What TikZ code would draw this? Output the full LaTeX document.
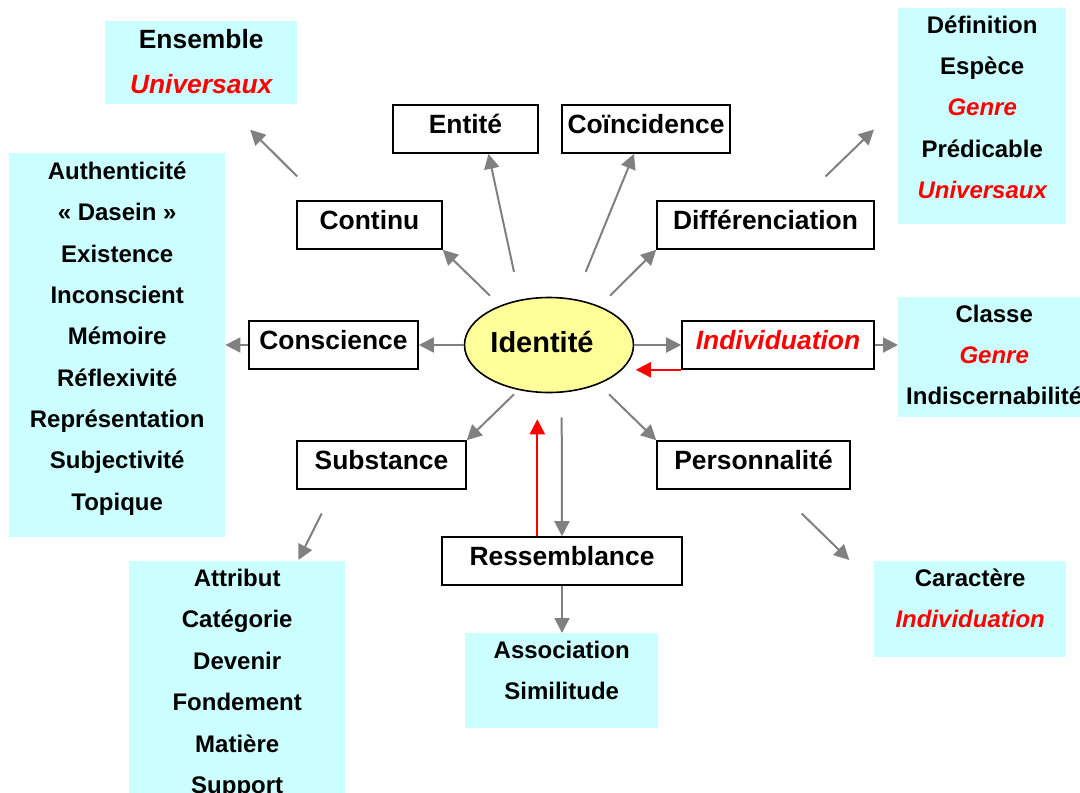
\documentclass[tikz,border=0pt]{standalone}
\usepackage{fontspec}
\setmainfont{Liberation Sans}
\usetikzlibrary{arrows.meta,calc,shapes.geometric}
\definecolor{cyanbg}{HTML}{CCFFFF}
\definecolor{idfill}{HTML}{FFFF99}
\definecolor{arrgray}{HTML}{808080}
\newcommand{\rd}[1]{{\color{red}\itshape #1}}
\begin{document}
\begin{tikzpicture}[x=1pt,y=-1pt,
  rbox/.style={draw=black, line width=1.6pt, fill=white, inner sep=0pt, text height=18pt, text depth=10pt, font=\fontsize{26.4}{30}\selectfont\bfseries, minimum height=48pt},
  cbox/.style={fill=cyanbg, draw=none, inner sep=0pt, anchor=north west},
  ctxt/.style={anchor=base, inner sep=0pt, font=\fontsize{24}{28}\selectfont\bfseries},
  btxt/.style={anchor=base, inner sep=0pt, font=\fontsize{26.4}{30}\selectfont\bfseries},
  garr/.style={draw=arrgray, line width=2pt, -{Triangle[length=15pt,width=15pt]}},
  rarr/.style={draw=red, line width=2.2pt, -{Triangle[length=15pt,width=15pt]}}
]
\useasboundingbox (0,0) rectangle (1080,793);
\clip (0,0) rectangle (1080,793);

% cyan boxes
\node[cbox, minimum width=192pt, minimum height=83pt] (ens) at (105,21) {};
\node[btxt] (ens-0) at ($(ens.north)+(0,27.3)$) {Ensemble};
\node[btxt] (ens-1) at ($(ens.north)+(0,72.3)$) {\rd{Universaux}};

\node[cbox, minimum width=168pt, minimum height=216pt] (def) at (898,8) {};
\foreach \t [count=\i from 0] in {Définition, Espèce, \rd{Genre}, Prédicable, \rd{Universaux}}
  \node[ctxt] (def-\i) at ($(def.north)+(0,25+41.4*\i)$) {\t};

\node[cbox, minimum width=216pt, minimum height=384pt] (lst) at (9,153) {};
\foreach \t [count=\i from 0] in {Authenticité, « Dasein », Existence, Inconscient, Mémoire, Réflexivité, Représentation, Subjectivité, Topique}
  \node[ctxt] (lst-\i) at ($(lst.north)+(0,26.3+41.35*\i)$) {\t};

\node[cbox, minimum width=192pt, minimum height=120pt] (cla) at (898,297) {};
\foreach \t [count=\i from 0] in {Classe, \rd{Genre}, Indiscernabilité}
  \node[ctxt] (cla-\i) at ($(cla.north)+(0,25+41*\i)$) {\t};

\node[cbox, minimum width=216pt, minimum height=260pt] (att) at (129,561) {};
\foreach \t [count=\i from 0] in {Attribut, Catégorie, Devenir, Fondement, Matière, Support}
  \node[ctxt] (att-\i) at ($(att.north)+(0,25+41.5*\i)$) {\t};

\node[cbox, minimum width=193pt, minimum height=95pt] (aso) at (465,633) {};
\foreach \t [count=\i from 0] in {Association, Similitude}
  \node[ctxt] (aso-\i) at ($(aso.north)+(0,25+41.5*\i)$) {\t};

\node[cbox, minimum width=192pt, minimum height=96pt] (car) at (874,561) {};
\foreach \t [count=\i from 0] in {Caractère, \rd{Individuation}}
  \node[ctxt] (car-\i) at ($(car.north)+(0,25+41.5*\i)$) {\t};

% white boxes
\node[rbox, minimum width=145pt] (entite) at (465.5,129) {Entité};
\node[rbox, minimum width=168pt] (coinc) at (646,129) {Coïncidence};
\node[rbox, minimum width=145pt] (continu) at (369.5,225) {Continu};
\node[rbox, minimum width=217pt] (diff) at (765.5,225) {Différenciation};
\node[rbox, minimum width=169pt] (consc) at (333.5,345) {Conscience};
\node[rbox, minimum width=192pt] (indiv) at (778,345) {\rd{Individuation}};
\node[rbox, minimum width=169pt] (subst) at (381.5,465) {Substance};
\node[rbox, minimum width=193pt] (person) at (753.5,465) {Personnalité};
\node[rbox, minimum width=240pt] (ressem) at (562,561) {Ressemblance};

% centre
\node[ellipse, draw=black, line width=1.6pt, fill=idfill, inner sep=0pt, minimum width=169pt, minimum height=95pt, text height=21pt, text depth=5.6pt, font=\fontsize{29}{32}\selectfont\bfseries] (id) at (549,345) {Identité\hspace*{14pt}};

% arrows
\draw[garr] ($(id.north)+(-35,-24.8)$) -- ($(entite.south)+(23,0)$);
\draw[garr] ($(id.north)+(36.7,-24.8)$) -- ($(coinc.south)+(-12,0)$);
\draw[garr] ($(id.north)+(-59,-1)$) -- (continu.south east);
\draw[garr] ($(id.north)+(61,-1)$) -- (diff.south west);
\draw[garr] (id.west) -- (consc.east);
\draw[garr] (consc.west) -- (consc.west -| lst.east);
\draw[garr] (id.east) -- (indiv.west);
\draw[garr] (indiv.east) -- (indiv.east -| cla.west);
\draw[rarr] (indiv.south west) -- ($(indiv.south west -| id.east)+(1.5,0)$);
\draw[garr] ($(id.south)+(-35,1)$) -- (subst.north east);
\draw[garr] ($(id.south)+(60,1)$) -- (person.north west);
\draw[rarr] ($(ressem.north)+(-24.7,0)$) -- ($(id.south)+(-11.7,26)$);
\draw[garr] ($(id.south)+(12.7,24)$) -- (ressem.north);
\draw[garr] (ressem.south) -- (ressem.south |- aso.north);
\draw[garr] ($(continu.north west)+(1,-23.7)$) -- ($(ens.south)+(49,25.3)$);
\draw[garr] ($(diff.north)+(60,-23.7)$) -- ($(def.west)+(-24,13.3)$);
\draw[garr] ($(subst.south)+(-59.8,23.7)$) -- ($(att.north)+(61.3,-1)$);
\draw[garr] ($(person.south)+(48.2,23.7)$) -- ($(car.north west)+(-24.7,-1)$);
\end{tikzpicture}
\end{document}
